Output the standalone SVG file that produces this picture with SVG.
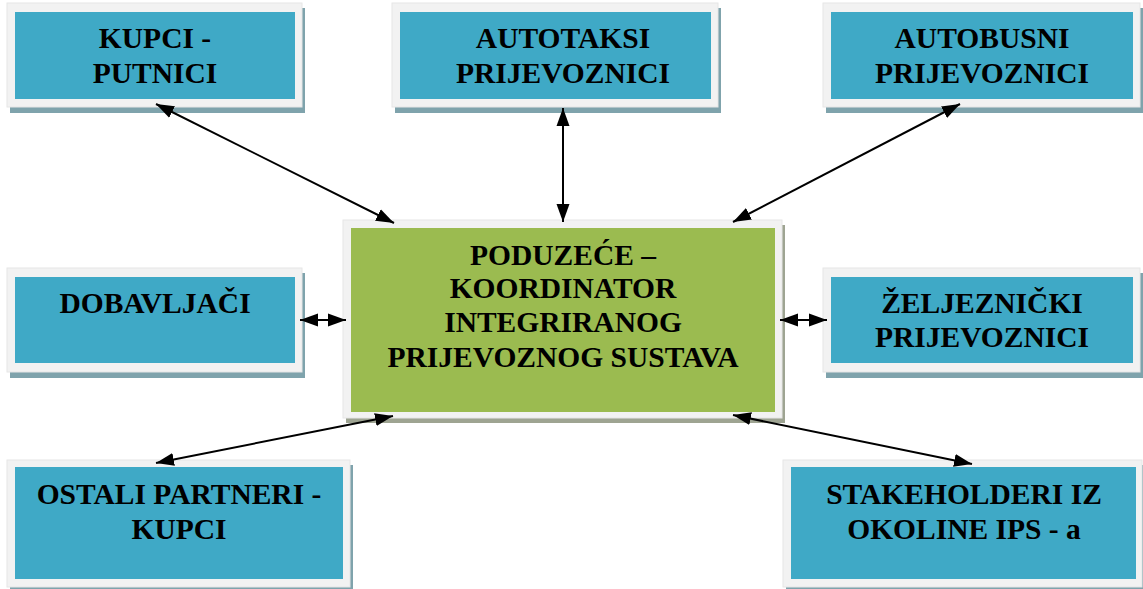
<svg xmlns="http://www.w3.org/2000/svg" width="1143" height="589" viewBox="0 0 1143 589">
<style>
.frame{fill:#f2f2f2;stroke:#e6e6e6;stroke-width:1}
.sh{fill:#7fa3ac}
.shg{fill:#9ea492}
.blue{fill:#3fa9c6}
.green{fill:#9bbb50}
text{font-family:"Liberation Serif","Times New Roman",serif;font-weight:bold;font-size:29.5px;fill:#000;text-anchor:middle}
.c{stroke:#000;stroke-width:2;fill:none;marker-start:url(#ah);marker-end:url(#ah)}
</style>
<defs>
<marker id="ah" markerUnits="userSpaceOnUse" markerWidth="20" markerHeight="16" viewBox="0 0 20 16" refX="18" refY="8" orient="auto-start-reverse">
<path d="M0,1.5 L18,8 L0,14.5 Z" fill="#000"/>
</marker>
</defs>
<rect width="1143" height="589" fill="#fff"/>

<g id="kupci">
<rect class="sh" x="10" y="8" width="295" height="105"/>
<rect class="frame" x="7" y="3" width="295" height="104"/>
<rect class="blue" x="15" y="12" width="280" height="87"/>
<text x="155" y="48">KUPCI -</text>
<text x="155" y="83">PUTNICI</text>
</g>

<g id="autotaksi">
<rect class="sh" x="395" y="8" width="326" height="105"/>
<rect class="frame" x="392" y="3" width="326" height="104"/>
<rect class="blue" x="400" y="12" width="311" height="87"/>
<text x="563" y="48">AUTOTAKSI</text>
<text x="563" y="83">PRIJEVOZNICI</text>
</g>

<g id="autobusni">
<rect class="sh" x="826" y="8" width="317" height="105"/>
<rect class="frame" x="823" y="3" width="317" height="104"/>
<rect class="blue" x="831" y="12" width="302" height="87"/>
<text x="982" y="48">AUTOBUSNI</text>
<text x="982" y="83">PRIJEVOZNICI</text>
</g>

<g id="dobavljaci">
<rect class="sh" x="10" y="273" width="295" height="105"/>
<rect class="frame" x="7" y="268" width="295" height="104"/>
<rect class="blue" x="15" y="277" width="280" height="86"/>
<text x="155" y="313">DOBAVLJAČI</text>
</g>

<g id="zeljeznicki">
<rect class="sh" x="826" y="273" width="317" height="105"/>
<rect class="frame" x="823" y="268" width="317" height="104"/>
<rect class="blue" x="831" y="277" width="302" height="86"/>
<text x="982" y="313">ŽELJEZNIČKI</text>
<text x="982" y="347">PRIJEVOZNICI</text>
</g>

<g id="poduzece">
<rect class="shg" x="346" y="225" width="439" height="198"/>
<rect class="frame" x="343" y="220" width="439" height="198"/>
<rect class="green" x="351" y="228" width="424" height="184"/>
<text x="563" y="265">PODUZEĆE –</text>
<text x="563" y="298">KOORDINATOR</text>
<text x="563" y="332">INTEGRIRANOG</text>
<text x="563" y="367">PRIJEVOZNOG SUSTAVA</text>
</g>

<g id="ostali">
<rect class="sh" x="10" y="465" width="343" height="124"/>
<rect class="frame" x="7" y="460" width="343" height="127"/>
<rect class="blue" x="15" y="467" width="328" height="112"/>
<text x="179" y="504">OSTALI PARTNERI -</text>
<text x="179" y="539">KUPCI</text>
</g>

<g id="stakeholderi">
<rect class="sh" x="786" y="465" width="357" height="124"/>
<rect class="frame" x="783" y="460" width="359" height="127"/>
<rect class="blue" x="791" y="467" width="345" height="112"/>
<text x="964" y="504">STAKEHOLDERI IZ</text>
<text x="964" y="539">OKOLINE IPS - a</text>
</g>

<g id="connectors">
<line class="c" x1="156" y1="104" x2="394" y2="223"/>
<line class="c" x1="563" y1="108" x2="563" y2="222"/>
<line class="c" x1="960" y1="104" x2="733" y2="222"/>
<line class="c" x1="300" y1="320" x2="346" y2="320"/>
<line class="c" x1="780" y1="320" x2="827" y2="320"/>
<line class="c" x1="156" y1="463" x2="393" y2="416"/>
<line class="c" x1="733" y1="415" x2="972" y2="464"/>
</g>
</svg>
